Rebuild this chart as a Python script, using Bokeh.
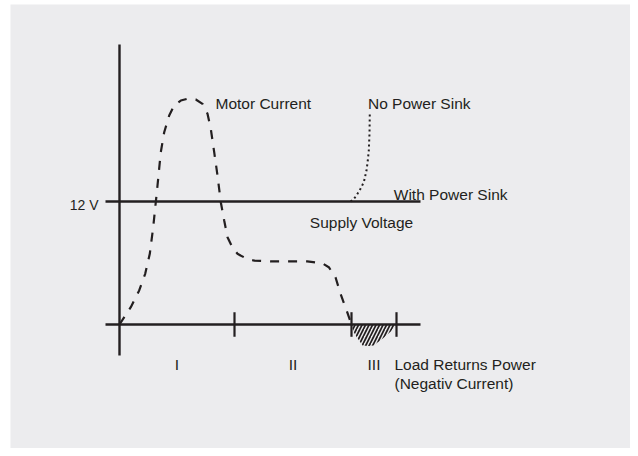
from bokeh.plotting import figure
from bokeh.models import Range1d
from bokeh.embed import file_html
from bokeh.resources import INLINE
from bokeh.core.properties import value

# ---------------- data ----------------
# time (arbitrary units) and motor current (arbitrary units, 12 = supply level)
motor_t = [0.0, 1.13, 1.97, 2.57, 3.03, 3.37, 3.63, 3.8, 4.13, 4.47, 4.97, 5.47, 6.13, 6.8,
           7.63, 8.3, 8.8, 9.13, 9.47, 9.8, 10.13, 10.47, 10.8, 11.3, 11.8, 12.1, 12.8, 13.43,
           15.1, 18.77, 20.27, 20.93, 21.6, 22.1, 22.77, 23.2]
motor_i = [0.0, 1.69, 3.32, 4.95, 6.9, 9.49, 11.93, 13.56, 16.81, 18.76, 20.39, 21.37, 21.85, 22.02,
           21.95, 21.53, 20.56, 19.09, 16.81, 14.54, 11.93, 10.15, 8.52, 7.51, 6.9, 6.73, 6.39, 6.24,
           6.15, 6.15, 5.98, 5.59, 4.61, 3.0, 1.2, 0.0]

# phase III: load returns power (negative current)
neg_t = [23.2, 23.4, 23.7, 24.3, 24.9, 25.4, 26.3, 27.1, 27.7]
neg_i = [0.0, -0.7, -1.2, -2.05, -2.1, -2.05, -1.4, -0.7, 0.0]

# voltage without power sink
nosink_t = [23.1, 23.37, 23.7, 24.1, 24.43, 24.7, 24.83, 24.93, 25.0, 25.03]
nosink_v = [12.0, 12.17, 12.59, 13.24, 13.88, 15.02, 16.0, 16.98, 18.63, 20.71]

supply_v = 12.0
phase_bounds = [0.0, 11.5, 23.2, 27.7]
phase_labels = ["I", "II", "III"]

# axis extents
x_axis_span = [-1.4, 30.1]
y_axis_span = [-3.02, 27.32]
tick_half = 1.2

# ---------------- figure ----------------
INK = "#231f20"
BG = "#ececee"
FONT = "Liberation Sans"

p = figure(width=630, height=448,
           x_range=Range1d(-10.9, 51.1), y_range=Range1d(-12.098, 31.22),
           output_backend="svg", toolbar_location=None,
           x_axis_type=None, y_axis_type=None,
           min_border_left=10, min_border_top=4, min_border_right=0, min_border_bottom=0)
p.background_fill_color = BG
p.border_fill_color = "white"
p.outline_line_color = None
p.grid.visible = False

# axes
p.line(x_axis_span, [0, 0], line_color=INK, line_width=2.4)
p.line([0, 0], y_axis_span, line_color=INK, line_width=2.4)
# supply voltage line
p.line(x_axis_span, [supply_v, supply_v], line_color=INK, line_width=2.4)
# phase ticks
tb = phase_bounds[1:]
p.segment(x0=tb, y0=[-tick_half] * len(tb), x1=tb, y1=[tick_half] * len(tb),
          line_color=INK, line_width=2.2)

# hatched negative current region
p.patch(neg_t, neg_i, fill_alpha=0, line_color=None,
        hatch_pattern="/", hatch_color=INK, hatch_scale=7, hatch_weight=1.7)

# motor current (dashed)
p.line(motor_t, motor_i, line_color=INK, line_width=2.2, line_dash="9 9")

# no power sink (dotted)
p.line(nosink_t, nosink_v, line_color=INK, line_width=2, line_dash="2 3")

# phase labels
mids = [(phase_bounds[k] + phase_bounds[k + 1]) / 2 for k in range(3)]
p.text(x=mids, y=[-3.9] * 3, text=phase_labels, text_align="center",
       text_baseline="alphabetic", text_font=value(FONT), text_font_size="15.5px",
       text_color=INK)

labels = [
    ("Motor Current", 9.6, 21.53, "left"),
    ("No Power Sink", 24.85, 21.53, "left"),
    ("With Power Sink", 27.43, 12.65, "left"),
    ("Supply Voltage", 19.03, 9.98, "left"),
    ("Load Returns Power", 27.5, -3.9, "left"),
    ("(Negativ Current)", 27.5, -5.76, "left"),
]
for txt, x, y, al in labels:
    p.text(x=[x], y=[y], text=[txt], text_align=al, text_baseline="alphabetic",
           text_font=value(FONT), text_font_size="15.5px", text_color=INK)

p.text(x=[-2.1], y=[11.68], text=["12 V"], text_align="right", text_baseline="alphabetic",
       text_font=value(FONT), text_font_size="14px", text_color=INK)

open("out.html", "w").write(file_html(p, INLINE))
